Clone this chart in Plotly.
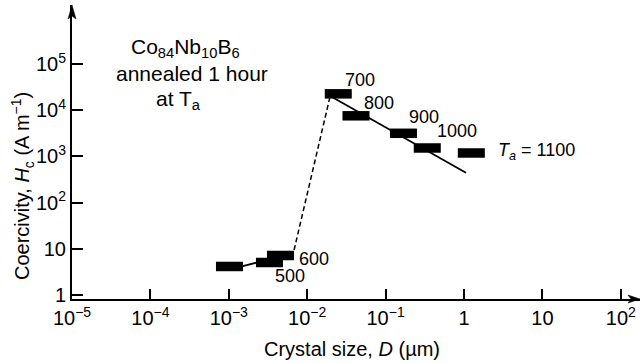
import numpy as np
import plotly.graph_objects as go

# ---- data ----
crystal_D = [1.02e-3, 3.30e-3, 4.56e-3, 0.0249, 0.0419, 0.169, 0.340, 1.24]   # um
coercivity_Hc = [4.14, 5.05, 7.16, 2.26e4, 7560, 3160, 1520, 1185]          # A/m

low_fit_D = [1.2e-3, 3.4e-3]
low_fit_Hc = [3.8, 6.0]
jump_D = [6.8e-3, 0.0195]
jump_Hc = [9.4, 1.93e4]
high_fit_D = [0.0207, 1.06]
high_fit_Hc = [1.93e4, 444]

label_text = ["500", "600", "700", "800", "900", "1000",
              "<i>T</i><sub><i>a</i></sub> = 1100"]
label_D = [3.66e-3, 7.41e-3, 0.0286, 0.050, 0.1875, 0.427, 2.56]
label_Hc = [2.58, 6.01, 4.47e4, 1.43e4, 7130, 3550, 1245]

note_lines = ["Co<sub>84</sub>Nb<sub>10</sub>B<sub>6</sub>", "annealed 1 hour", "at T<sub>a</sub>"]

x_tickvals = [1e-5, 1e-4, 1e-3, 1e-2, 1e-1, 1, 10, 100]
x_ticktext = ["10<sup>−5</sup>", "10<sup>−4</sup>", "10<sup>−3</sup>", "10<sup>−2</sup>",
              "10<sup>−1</sup>", "1", "10", "10<sup>2</sup>"]
y_tickvals = [1, 10, 100, 1e3, 1e4, 1e5]
y_ticktext = ["1", "10", "10<sup>2</sup>", "10<sup>3</sup>", "10<sup>4</sup>", "10<sup>5</sup>"]

FONT = "Liberation Sans, Arial, Helvetica, sans-serif"
L, T, PW, PH = 72, 5, 568, 294   # plot area in pixels


def px(xp, yp):
    return (xp - L) / PW, (T + PH - yp) / PH


fig = go.Figure()
fig.add_trace(go.Scatter(x=low_fit_D, y=low_fit_Hc, mode="lines",
                         line=dict(color="black", width=1.8), showlegend=False))
fig.add_trace(go.Scatter(x=jump_D, y=jump_Hc, mode="lines",
                         line=dict(color="black", width=1.5, dash="5px,3px"), showlegend=False))
fig.add_trace(go.Scatter(x=high_fit_D, y=high_fit_Hc, mode="lines",
                         line=dict(color="black", width=1.8), showlegend=False))
fig.add_trace(go.Scatter(x=crystal_D, y=coercivity_Hc, mode="markers",
                         marker=dict(symbol="line-ew", size=19.3,
                                     line=dict(color="black", width=9.5)),
                         showlegend=False))

annotations = []
for t, d, h in zip(label_text, label_D, label_Hc):
    annotations.append(dict(x=np.log10(d), y=np.log10(h), xref="x", yref="y", text=t,
                            showarrow=False, xanchor="left", yanchor="middle",
                            font=dict(size=18, color="black", family=FONT)))

for t, (cx, cy) in zip(note_lines, [(185, 48), (192, 73), (178, 100)]):
    xx, yy = px(cx, cy)
    annotations.append(dict(x=xx, y=yy, xref="paper", yref="paper", text=t,
                            showarrow=False, xanchor="center", yanchor="middle",
                            font=dict(size=21, color="black", family=FONT)))

xx, yy = px(352, 349)
annotations.append(dict(x=xx, y=yy, xref="paper", yref="paper",
                        text="Crystal size, <i>D</i> (µm)", showarrow=False,
                        xanchor="center", yanchor="middle",
                        font=dict(size=20, color="black", family=FONT)))
xx, yy = px(22, 186)
annotations.append(dict(x=xx, y=yy, xref="paper", yref="paper",
                        text="Coercivity, <i>H</i><sub>c</sub> (A m<sup>−1</sup>)", showarrow=False,
                        textangle=-90, xanchor="center", yanchor="middle",
                        font=dict(size=20, color="black", family=FONT)))

shapes = [
    dict(type="path", xref="paper", yref="paper", xsizemode="pixel", ysizemode="pixel",
         xanchor=0, yanchor=1, path="M0,0 L-4,-14 L0,-11 L4,-14 Z",
         fillcolor="black", line=dict(color="black", width=0.5)),
    dict(type="path", xref="paper", yref="paper", xsizemode="pixel", ysizemode="pixel",
         xanchor=1, yanchor=0, path="M0,0 L-12,4 L-9,0 L-12,-4 Z",
         fillcolor="black", line=dict(color="black", width=0.5)),
]

fig.update_layout(
    width=641, height=363, autosize=False,
    margin=dict(l=L, r=1, t=T, b=64, pad=0),
    paper_bgcolor="white", plot_bgcolor="white",
    font=dict(family=FONT, size=20, color="black"),
    annotations=annotations, shapes=shapes,
    xaxis=dict(type="log", range=[-5, 2.245], showgrid=False, zeroline=False,
               showline=True, linecolor="black", linewidth=2,
               ticks="inside", ticklen=10, tickwidth=1.8, tickcolor="black",
               tickvals=x_tickvals, ticktext=x_ticktext,
               tickfont=dict(size=20, family=FONT, color="black")),
    yaxis=dict(type="log", range=[-0.087, 6.277], showgrid=False, zeroline=False,
               showline=True, linecolor="black", linewidth=2,
               ticks="inside", ticklen=11, tickwidth=1.8, tickcolor="black",
               tickvals=y_tickvals, ticktext=y_ticktext,
               tickfont=dict(size=20, family=FONT, color="black")),
)

fig.write_html("out.html", config={"displayModeBar": False},
               post_script="document.body.style.margin='0';document.body.style.overflow='hidden';")
